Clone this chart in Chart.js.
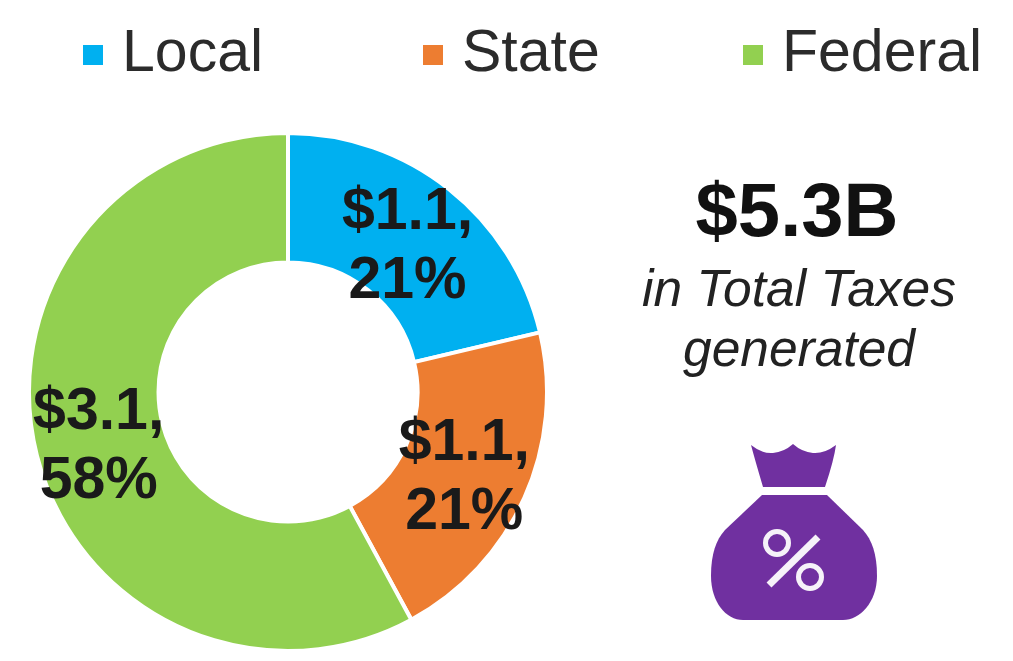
<!DOCTYPE html>
<html>

<head>
    <title>Total Taxes</title>
    <style>
        body {
            margin: 0;
            background-color: #ffffff;
            font-family: "Liberation Sans", Arial, sans-serif;
            color: #222222;
        }

        #page {
            position: relative;
            width: 1013px;
            height: 661px;
            overflow: hidden;
        }

        #donutBox {
            position: absolute;
            left: 27px;
            top: 131px;
            width: 522px;
            height: 522px;
        }

        .legendMark {
            position: absolute;
            top: 45px;
            width: 20px;
            height: 20px;
        }

        .legendText {
            position: absolute;
            top: 17px;
            font-size: 59px;
            line-height: 68px;
            color: #2b2b2b;
            white-space: nowrap;
        }

        .side {
            position: absolute;
            left: 603px;
            width: 392px;
            text-align: center;
            white-space: nowrap;
        }

        #bag {
            position: absolute;
            left: 700px;
            top: 435px;
        }
    </style>
    <script src="https://cdn.jsdelivr.net/npm/chart.js"></script>
</head>

<body>
    <div id="page">
        <div id="legend"></div>
        <div id="donutBox"><canvas id="donut" width="522" height="522"></canvas></div>

        <div class="side" id="total" style="left: 601px; top: 167px; font-size: 76px; line-height: 86px; font-weight: bold; color: #111111;"></div>
        <div class="side" id="caption1" style="top: 258px; font-size: 51.5px; line-height: 60px; font-style: italic;"></div>
        <div class="side" id="caption2" style="top: 318px; font-size: 51.5px; line-height: 60px; font-style: italic;"></div>

        <!-- money bag icon -->
        <svg id="bag" width="190" height="195" viewBox="700 435 190 195">
            <path fill="#7030A0" d="M751 445 Q762 454 773 453 Q784 452 793 444 Q802 452 813 453 Q824 454 836 445 Q834 460 825 487 L763 487 Q755 460 751 445 Z" />
            <path fill="#7030A0" d="M762 495 L827 495 L863 530 C872 540 877 554 877 576 C877 602 860 620 843 620 L743 620 C726 620 711 602 711 576 C711 554 716 540 725 530 Z" />
            <circle cx="777" cy="543" r="11.5" fill="none" stroke="#f6f2f9" stroke-width="5" />
            <circle cx="810" cy="577" r="11.5" fill="none" stroke="#f6f2f9" stroke-width="5" />
            <path d="M769 585 L818 537" stroke="#f6f2f9" stroke-width="7" fill="none" />
        </svg>
    </div>
</body>
<script>
// Values
const categories = ["Local", "State", "Federal"];
const amounts = ["$1.1,", "$1.1,", "$3.1,"];
const percentLabels = ["21%", "21%", "58%"];
// slice sizes as measured from the slice edges, the printed labels are rounded
const sliceShares = [21.3, 20.8, 57.9];
const sliceColors = ["#00B0F0", "#ED7D31", "#92D050"];
const legendMarkX = [83, 423, 743];
const legendTextX = [122, 462, 782];
const totalText = "$5.3B";
const captionLines = ["in Total Taxes", "generated"];

document.getElementById("total").textContent = totalText;
document.getElementById("caption1").textContent = captionLines[0];
document.getElementById("caption2").textContent = captionLines[1];

// Legend sits apart from the chart because its gaps are not even
const legendBox = document.getElementById("legend");
categories.forEach((name, i) => {
    const mark = document.createElement("div");
    mark.className = "legendMark";
    mark.style.left = legendMarkX[i] + "px";
    mark.style.background = sliceColors[i];
    legendBox.appendChild(mark);

    const label = document.createElement("div");
    label.className = "legendText";
    label.style.left = legendTextX[i] + "px";
    label.textContent = name;
    legendBox.appendChild(label);
});

// Two line label in the middle of each slice
const sliceLabels = {
    id: "sliceLabels",
    afterDatasetsDraw(chart) {
        const ctx = chart.ctx;
        ctx.save();
        ctx.font = 'bold 59px "Liberation Sans", Arial, sans-serif';
        ctx.fillStyle = "#1a1a1a";
        ctx.textAlign = "center";
        ctx.textBaseline = "alphabetic";
        chart.getDatasetMeta(0).data.forEach((arc, i) => {
            const pos = arc.tooltipPosition();
            ctx.fillText(amounts[i], pos.x - 1, pos.y - 11);
            ctx.fillText(percentLabels[i], pos.x - 1, pos.y + 58);
        });
        ctx.restore();
    }
};

new Chart(document.getElementById("donut").getContext("2d"), {
    type: "doughnut",
    data: {
        labels: categories,
        datasets: [{
            data: sliceShares,
            backgroundColor: sliceColors,
            borderColor: "#ffffff",
            borderWidth: 4
        }]
    },
    options: {
        responsive: false,
        animation: false,
        cutout: "50%",
        plugins: {
            legend: { display: false },
            tooltip: { enabled: false }
        }
    },
    plugins: [sliceLabels]
});
</script>
</html>
